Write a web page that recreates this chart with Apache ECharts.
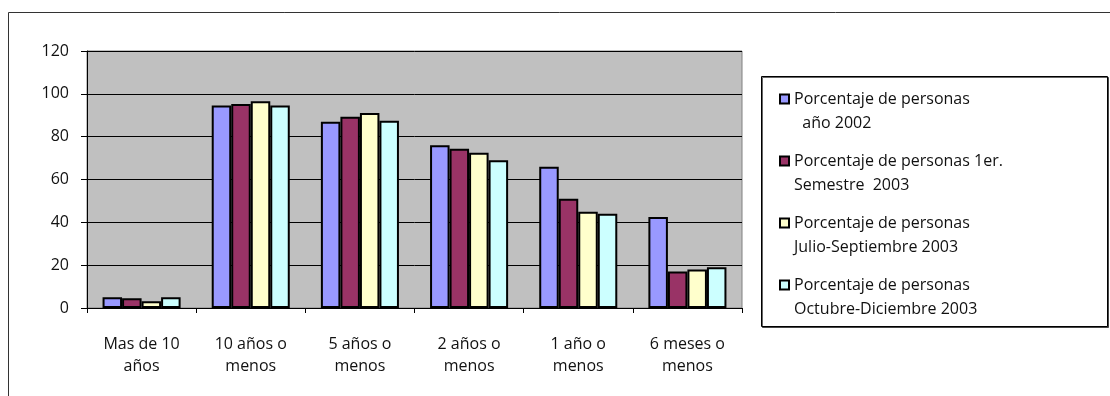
<!DOCTYPE html>
<html>
<head>
<meta charset="utf-8">
<script src="https://cdn.jsdelivr.net/npm/echarts@6/dist/echarts.min.js"></script>
<style>
  html, body { margin: 0; padding: 0; background: #fff; }
  #chart { width: 1110px; height: 396px; }
</style>
</head>
<body>
<div id="chart"></div>
<script>
// Antigüedad del empleo: porcentaje de personas por periodo
const categories = ['Mas de 10\naños', '10 años o\nmenos', '5 años o\nmenos', '2 años o\nmenos', '1 año o\nmenos', '6 meses o\nmenos'];
const seriesNames = [
  'Porcentaje de personas\n  año 2002',
  'Porcentaje de personas 1er.\nSemestre  2003',
  'Porcentaje de personas\nJulio-Septiembre 2003',
  'Porcentaje de personas\nOctubre-Diciembre 2003'
];
const anio2002 = [5, 94.5, 87, 76, 66, 42.5];
const semestre1_2003 = [4.5, 95.3, 89.3, 74.3, 51, 17];
const julSep2003 = [3.2, 96.5, 91, 72.5, 45, 18];
const octDic2003 = [5, 94.6, 87.4, 69, 44, 19];
const yTicks = { min: 0, max: 120, interval: 20 };

const seriesValues = [anio2002, semestre1_2003, julSep2003, octDic2003];
const barColors = ['#9999FF', '#993366', '#FFFFCC', '#CCFFFF'];
const FONT = '"Open Sans", sans-serif';

const chart = echarts.init(document.getElementById('chart'));
chart.setOption({
  animation: false,
  backgroundColor: '#ffffff',
  grid: {
    left: 87, top: 51, right: 368, bottom: 88,
    show: true,
    backgroundColor: '#C0C0C0',
    borderColor: '#808080',
    borderWidth: 1
  },
  xAxis: {
    type: 'category',
    data: categories,
    axisLine: { lineStyle: { color: '#000', width: 1 } },
    axisTick: { show: true, length: 5, lineStyle: { color: '#000' } },
    axisLabel: {
      color: '#111', fontFamily: FONT, fontSize: 16, lineHeight: 22, margin: 25
    }
  },
  yAxis: {
    type: 'value',
    min: yTicks.min, max: yTicks.max, interval: yTicks.interval,
    axisLine: { show: true, lineStyle: { color: '#000', width: 1 } },
    axisTick: { show: true, length: 6, lineStyle: { color: '#000' } },
    axisLabel: { color: '#111', fontFamily: FONT, fontSize: 16, margin: 18 },
    splitLine: { show: true, lineStyle: { color: '#000', width: 1 } }
  },
  legend: {
    orient: 'vertical',
    left: 774, top: 58,
    itemWidth: 9, itemHeight: 9,
    itemGap: -10,
    icon: 'rect',
    // a leading blank line keeps the marker level with the first text line
    formatter: name => ' \n' + name,
    textStyle: {
      color: '#111', fontFamily: FONT, fontSize: 16, lineHeight: 24
    },
    data: seriesNames
  },
  series: seriesNames.map((name, i) => ({
    name: name,
    type: 'bar',
    data: seriesValues[i],
    barGap: '0%',
    barCategoryGap: '28.5%',
    itemStyle: { color: barColors[i], borderColor: '#000', borderWidth: 2 }
  })),
  graphic: [
    {
      type: 'rect', z: -1, silent: true,
      shape: { x: 8.5, y: 12.5, width: 1200, height: 500 },
      style: { fill: 'none', stroke: '#333', lineWidth: 1 }
    },
    {
      type: 'rect', z: -1, silent: true,
      shape: { x: 761.5, y: 76.5, width: 346, height: 250 },
      style: {
        fill: '#fff', stroke: '#000', lineWidth: 1,
        shadowColor: 'rgba(0,0,0,0.6)', shadowOffsetX: 1, shadowOffsetY: 1, shadowBlur: 0
      }
    }
  ]
});
</script>
</body>
</html>
